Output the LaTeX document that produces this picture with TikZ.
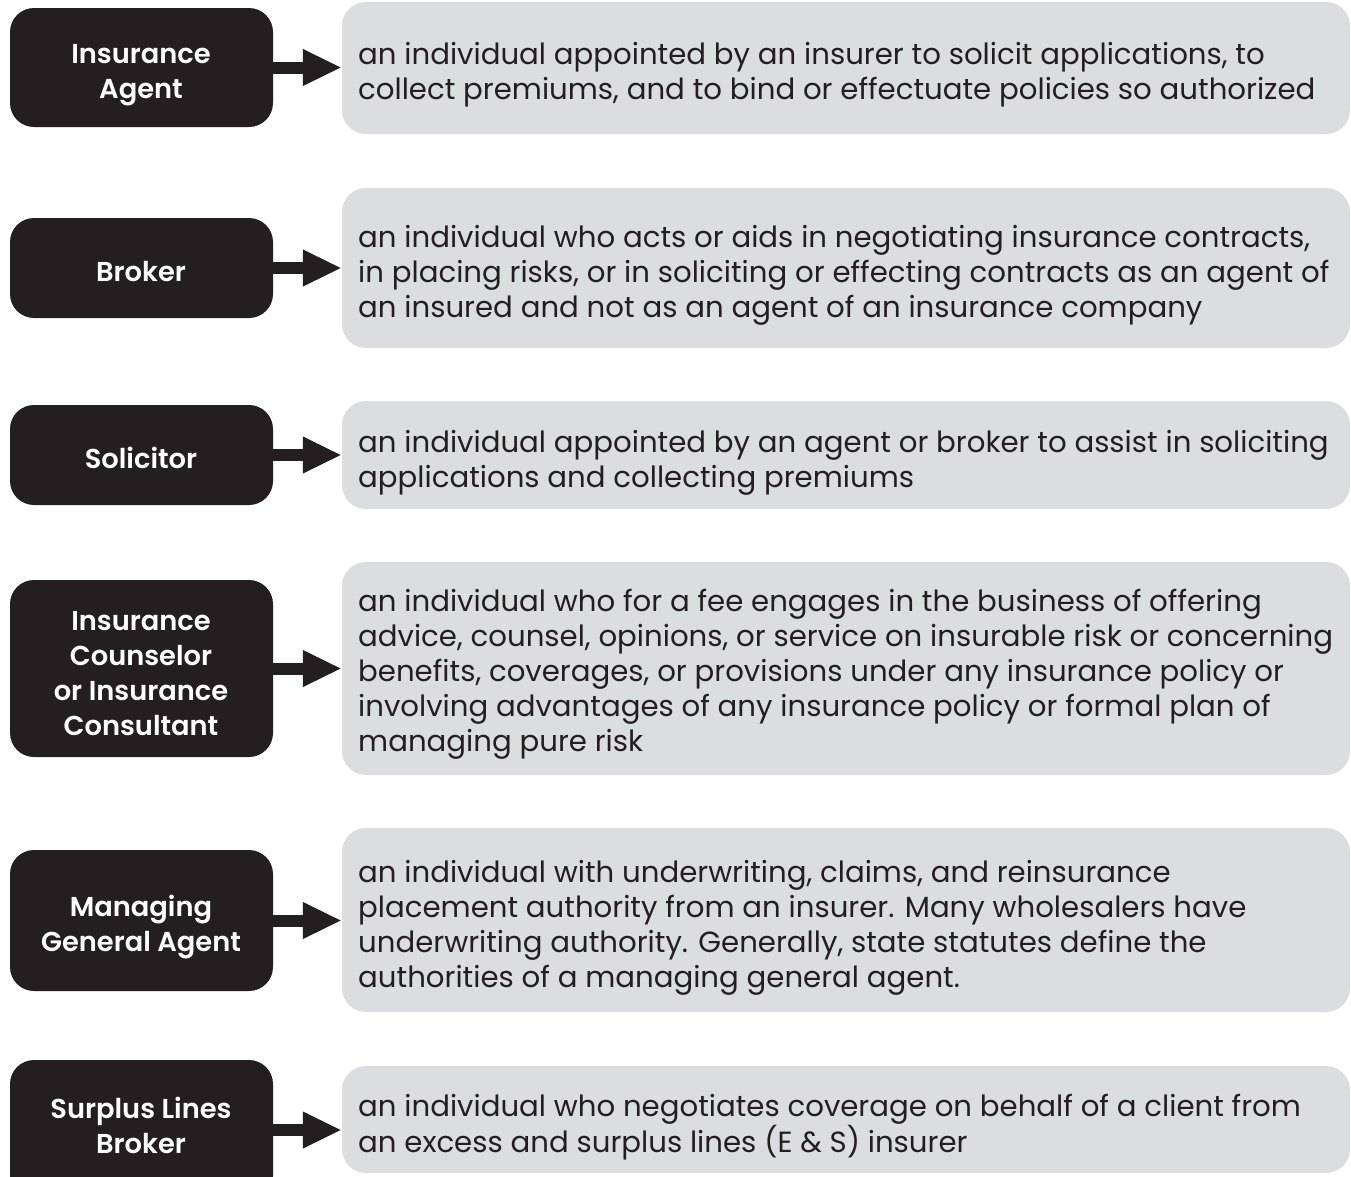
\documentclass[tikz,border=0pt]{standalone}
\usepackage{fontspec}
\setmainfont{Poppins}
\newfontfamily\labelfont{Poppins SemiBold}
\usetikzlibrary{arrows.meta}
\definecolor{ink}{HTML}{231F20}
\definecolor{pale}{HTML}{DCDDDE}
\tikzset{
  term/.style={fill=ink, rounded corners=24pt, minimum width=263pt, inner sep=0pt},
  termtext/.style={inner sep=0pt, text=white, align=center,
    font=\labelfont\fontsize{27.3}{35}\selectfont},
  defbox/.style={fill=pale, rounded corners=24pt, minimum width=1008pt, inner sep=0pt},
  deftext/.style={anchor=west, inner sep=0pt, text=ink, align=left,
    font=\fontsize{29.2}{35}\selectfont},
  arr/.style={draw=ink, line width=12pt, -{Triangle[length=39pt,width=34pt]}}
}
\begin{document}
\begin{tikzpicture}[x=1pt,y=-1pt]
\useasboundingbox (0,0) rectangle (1351,1176);
% term boxes
\node[term, minimum height=119pt] (a1) at (141.5,67.5) {};
\node[term, minimum height=100pt] (a2) at (141.5,268) {};
\node[term, minimum height=100pt] (a3) at (141.5,455) {};
\node[term, minimum height=177pt] (a4) at (141.5,668.5) {};
\node[term, minimum height=141pt] (a5) at (141.5,920.5) {};
\node[term, minimum height=140pt] (a6) at (141.5,1130) {};
\node[termtext] (l1) at (141,75) {Insurance\\Agent};
\node[termtext] (l2) at (141,272) {Broker};
\node[termtext] (l3) at (141,458) {Solicitor};
\node[termtext] (l4) at (141,674) {Insurance\\Counselor\\or Insurance\\Consultant};
\node[termtext] (l5) at (141,927) {Managing\\General Agent};
\node[termtext] (l6) at (141,1125) {Surplus Lines\\Broker};
% definition boxes
\node[defbox, minimum height=132pt] (d1) at (846,68) {};
\node[defbox, minimum height=160pt] (d2) at (846,268) {};
\node[defbox, minimum height=108pt] (d3) at (846,455) {};
\node[defbox, minimum height=213pt] (d4) at (846,668.5) {};
\node[defbox, minimum height=184pt] (d5) at (846,920) {};
\node[defbox, minimum height=107pt] (d6) at (846,1119.5) {};
% texts
\node[deftext] (t1) at (358,75) {an individual appointed by an insurer to solicit applications, to\\collect premiums, and to bind or effectuate policies so authorized};
\node[deftext] (t2) at (358,275.5) {an individual who acts or aids in negotiating insurance contracts,\\in placing risks, or in soliciting or effecting contracts as an agent of\\an insured and not as an agent of an insurance company};
\node[deftext] (t3) at (358,462.5) {an individual appointed by an agent or broker to assist in soliciting\\applications and collecting premiums};
\node[deftext] (t4) at (358,674) {an individual who for a fee engages in the business of offering\\advice, counsel, opinions, or service on insurable risk or concerning\\benefits, coverages, or provisions under any insurance policy or\\involving advantages of any insurance policy or formal plan of\\managing pure risk};
\node[deftext] (t5) at (358,927.5) {an individual with underwriting, claims, and reinsurance\\placement authority from an insurer. Many wholesalers have\\underwriting authority. Generally, state statutes define the\\authorities of a managing general agent.};
\node[deftext] (t6) at (358,1127.5) {an individual who negotiates coverage on behalf of a client from\\an excess and surplus lines (E \& S) insurer};
% arrows
\foreach \i in {1,...,6} {
  \draw[arr] (a\i.east) -- (a\i.east -| d\i.west);
}
\end{tikzpicture}
\end{document}
